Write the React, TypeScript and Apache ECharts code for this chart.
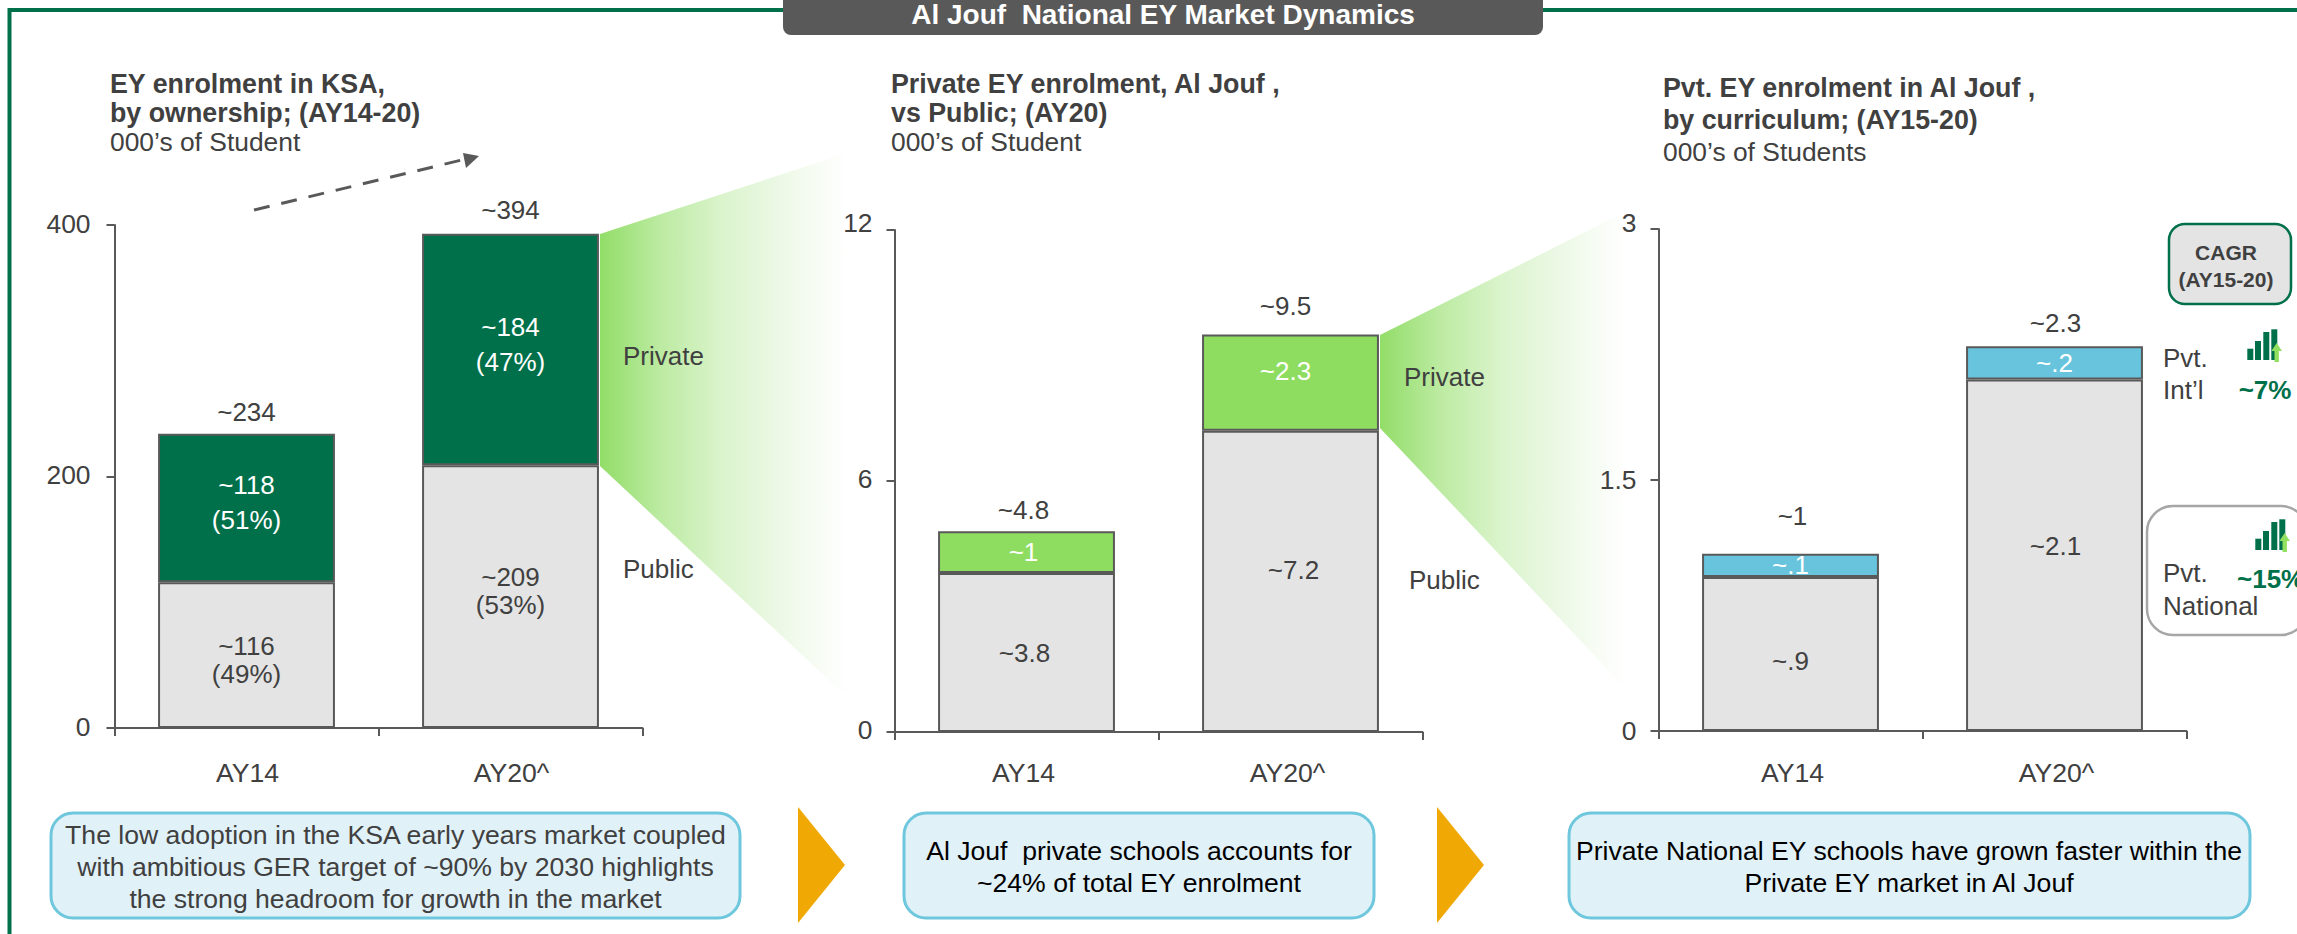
import React, { useEffect, useRef } from "react";
import * as echarts from "echarts";

const FONT = "Liberation Sans";
const TXT = "#404040";
const EDGE = "#595959";
const GREEN = "#00704a";
const LIME = "#8fdd60";
const BLUE = "#68c4dc";
const GREY = "#e4e4e4";

const categories = ["AY14", "AY20^"];

const ksaPublic = [116, 209];
const ksaPrivate = [118, 184];
const ksaTotal = [234, 394];
const ksaPublicLabels = ["~116\n(49%)", "~209\n(53%)"];
const ksaPrivateLabels = ["~118\n(51%)", "~184\n(47%)"];
const ksaTotalLabels = ["~234", "~394"];

const joufPublic = [3.8, 7.2];
const joufPrivate = [1, 2.3];
const joufTotal = [4.8, 9.5];
const joufPublicLabels = ["~3.8", "~7.2"];
const joufPrivateLabels = ["~1", "~2.3"];
const joufTotalLabels = ["~4.8", "~9.5"];

const currNational = [0.92, 2.1];
const currIntl = [0.14, 0.2];
const currTotal = [1.06, 2.3];
const currNationalLabels = ["~.9", "~2.1"];
const currIntlLabels = ["~.1", "~.2"];
const currTotalLabels = ["~1", "~2.3"];

const callout1 = "The low adoption in the KSA early years market coupled\nwith ambitious GER target of ~90% by 2030 highlights\nthe strong headroom for growth in the market";
const callout2 = "Al Jouf  private schools accounts for\n~24% of total EY enrolment";
const callout3 = "Private National EY schools have grown faster within the\nPrivate EY market in Al Jouf";

function panel(i: number, box: any, max: number, step: number, low: number[], high: number[], total: number[],
  lowL: string[], highL: string[], totalL: string[], highFill: string, o: any) {
  const axisLine = { lineStyle: { color: EDGE, width: 2 } };
  const tick = { length: 8, lineStyle: { color: EDGE, width: 2 } };
  const barBase = {
    type: "bar", stack: "s" + i, xAxisIndex: i, yAxisIndex: i, barWidth: "67%",
  };
  const lbl = (t: string, color: string, off: number[], lh: number) => ({
    show: true, position: "inside", formatter: t, color, fontSize: 26, fontFamily: FONT, lineHeight: lh, offset: off,
  });
  const tickStyle = { color: TXT, fontSize: 26.4, fontFamily: FONT };
  return {
    grid: { ...box, containLabel: false },
    xAxis: {
      type: "category", gridIndex: i, data: categories, axisLine, axisTick: { ...tick, show: true, alignWithLabel: false },
      axisLabel: { color: TXT, fontSize: 26.6, fontFamily: FONT, margin: o.xMargin, padding: o.xPad },
    },
    yAxis: {
      type: "value", gridIndex: i, min: 0, max, interval: step, axisLine: { show: true, ...axisLine },
      axisTick: { show: true, ...tick }, splitLine: { show: false },
      axisLabel: {
        ...tickStyle, margin: o.yMargin,
        formatter: (v: number) => (v === max ? `{top|${v}}` : `{rest|${v}}`),
        rich: {
          top: { ...tickStyle, padding: [0, 0, o.topPad, 0] },
          rest: { ...tickStyle, padding: [0, 0, o.restPad, 0] },
        },
      },
    },
    series: [
      {
        ...barBase, name: "Public",
        itemStyle: { color: GREY, borderColor: EDGE, borderWidth: 2 },
        data: low.map((v, k) => ({ value: v, label: lbl(lowL[k], TXT, o.lowOff[k], o.lowLh) })),
      },
      {
        ...barBase, name: "Private",
        itemStyle: { color: highFill, borderColor: EDGE, borderWidth: 2 },
        data: high.map((v, k) => ({ value: v, label: lbl(highL[k], "#ffffff", o.highOff[k], o.highLh) })),
      },
      {
        type: "scatter", name: "Total", xAxisIndex: i, yAxisIndex: i, symbolSize: 1, itemStyle: { color: "rgba(0,0,0,0)", opacity: 1 }, z: 5,
        data: total.map((v, k) => ({
          value: v,
          label: { show: true, position: "top", distance: 9, formatter: totalL[k], color: TXT, fontSize: 26, fontFamily: FONT, offset: o.totalOff[k] },
        })),
      },
    ],
  };
}

const T = (text: string, x: number, y: number, extra: any = {}) => ({
  type: "text", x, y,
  style: { text, fontFamily: FONT, fontSize: 26, fill: TXT, verticalAlign: "middle", align: "left", ...extra },
});

const box = (x: number, y: number, w: number, h: number, r: number, fill: string, stroke: string, lw: number) => ({
  type: "rect", shape: { x, y, width: w, height: h, r }, style: { fill, stroke, lineWidth: lw },
});

const wedgeFill = () => new echarts.graphic.LinearGradient(0, 0, 1, 0, [
  { offset: 0, color: "#92dd68" },
  { offset: 0.25, color: "#bdeba3" },
  { offset: 0.5, color: "#dbf4cd" },
  { offset: 0.75, color: "#eef9e8" },
  { offset: 1, color: "#ffffff" },
]);

const wedge = (pts: number[][]) => ({ type: "polygon", shape: { points: pts }, style: { fill: wedgeFill() } });

const icon = (dx: number, dy: number) => {
  const bars = [[2247.3, 348.7], [2255, 341], [2263.3, 332], [2271.3, 329.3]];
  return [
    ...bars.map(([x, y]) => ({
      type: "rect", shape: { x: x + dx, y: y + dy, width: 6, height: 360 - y }, style: { fill: GREEN },
    })),
    {
      type: "polygon",
      shape: {
        points: [[2276.7, 343], [2282, 351], [2278.9, 351], [2278.9, 362], [2274.5, 362], [2274.5, 351], [2271.4, 351]]
          .map(([x, y]) => [x + dx, y + dy]),
      },
      style: { fill: "#92e060" },
    },
  ];
};

const chevron = (x0: number, x1: number) => ({
  type: "polygon", shape: { points: [[x0, 807], [x1, 865], [x0, 923]] }, style: { fill: "#f0a904" },
});

function buildOption() {
  const p = [
    panel(0, { left: 114.5, top: 225, width: 528, height: 503 }, 400, 200, ksaPublic, ksaPrivate, ksaTotal,
      ksaPublicLabels, ksaPrivateLabels, ksaTotalLabels, GREEN,
      { lowOff: [[0, 5], [0, -6]], lowLh: 28, highOff: [[0, -5], [0, -5]], highLh: 35, totalOff: [[0, 1], [0, 0]],
        xMargin: 31, xPad: [0, 0, 0, 2], yMargin: 24, topPad: 3, restPad: 3 }),
    panel(1, { left: 894.5, top: 230, width: 528, height: 502 }, 12, 6, joufPublic, joufPrivate, joufTotal,
      joufPublicLabels, joufPrivateLabels, joufTotalLabels, LIME,
      { lowOff: [[-2, 0], [3, -11]], lowLh: 30, highOff: [[-3, 0], [-5, -12]], highLh: 30, totalOff: [[-3, 1], [-5, -6]],
        xMargin: 27, xPad: [0, 6, 0, 0], yMargin: 22, topPad: 14, restPad: 4 }),
    panel(2, { left: 1658.5, top: 229, width: 528, height: 502 }, 3, 1.5, currNational, currIntl, currTotal,
      currNationalLabels, currIntlLabels, currTotalLabels, BLUE,
      { lowOff: [[0, 7], [1, -9]], lowLh: 30, highOff: [[0, 0], [0, 0]], highLh: 30, totalOff: [[2, -15], [1, -1]],
        xMargin: 28, xPad: [0, 0, 0, 4], yMargin: 22, topPad: 12, restPad: 0 }),
  ];

  const titleBold = { fontWeight: "bold", fontSize: 26.8 };
  const sub = { fontSize: 26.4 };
  const call = { align: "center", lineHeight: 32, fontSize: 26.6 };

  const graphics: any[] = [
    { type: "polyline", shape: { points: [[9.5, 934], [9.5, 10], [2297, 10]] }, style: { fill: "none", stroke: GREEN, lineWidth: 4 } },
    box(783, -12, 760, 47, 8, "#595959", "none", 0),
    T("Al Jouf  National EY Market Dynamics", 1163, 14, { align: "center", fill: "#ffffff", fontWeight: "bold", fontSize: 28 }),

    wedge([[600, 234], [847, 153], [847, 697], [600, 466]]),
    wedge([[1380, 335], [1627, 211], [1627, 690], [1380, 428]]),

    T("EY enrolment in KSA,", 110, 84, titleBold),
    T("by ownership; (AY14-20)", 110, 113, titleBold),
    T("000\u2019s of Student", 110, 142, sub),
    T("Private EY enrolment, Al Jouf ,", 891, 84, titleBold),
    T("vs Public; (AY20)", 891, 113, titleBold),
    T("000\u2019s of Student", 891, 142, sub),
    T("Pvt. EY enrolment in Al Jouf ,", 1663, 88, titleBold),
    T("by curriculum; (AY15-20)", 1663, 120, titleBold),
    T("000\u2019s of Students", 1663, 152, sub),

    { type: "line", shape: { x1: 254, y1: 210, x2: 466, y2: 159 }, style: { stroke: EDGE, lineWidth: 3, lineDash: [16, 12] } },
    { type: "polygon", shape: { points: [[463, 153], [479, 156], [466, 168]] }, style: { fill: EDGE } },

    T("Private", 623, 356),
    T("Public", 623, 569),
    T("Private", 1404, 377),
    T("Public", 1409, 580),

    box(2169, 224, 122, 80, 16, GREY, GREEN, 2.5),
    T("CAGR", 2226, 252, { align: "center", fontWeight: "bold", fontSize: 21 }),
    T("(AY15-20)", 2226, 279, { align: "center", fontWeight: "bold", fontSize: 21 }),

    T("Pvt.", 2163, 358),
    T("Int\u2019l", 2163, 390),
    ...icon(0, 0),
    T("~7%", 2265, 390, { align: "center", fontWeight: "bold", fill: GREEN }),

    box(2147, 506, 160, 129, 26, "#ffffff", "#a6a6a6", 2.5),
    T("Pvt.", 2163, 573),
    T("National", 2163, 606),
    ...icon(8, 190),
    T("~15%", 2237, 579, { fontWeight: "bold", fill: GREEN }),

    box(51, 813, 689, 105, 22, "#e0f1f8", "#6fc7dd", 3),
    T(callout1, 395.5, 867, call),
    chevron(798, 845),
    box(904, 813, 470, 105, 22, "#e0f1f8", "#6fc7dd", 3),
    T(callout2, 1139, 867, { ...call, fill: "#000000" }),
    chevron(1437, 1484),
    box(1569, 813, 681, 105, 22, "#e0f1f8", "#6fc7dd", 3),
    T(callout3, 1909, 867, { ...call, fill: "#000000" }),
  ];

  return {
    animation: false,
    backgroundColor: "#ffffff",
    textStyle: { fontFamily: FONT },
    grid: p.map((x) => x.grid),
    xAxis: p.map((x) => x.xAxis),
    yAxis: p.map((x) => x.yAxis),
    series: p.flatMap((x) => x.series),
    graphic: { elements: graphics },
  };
}

export default function App() {
  const ref = useRef<HTMLDivElement>(null);
  useEffect(() => {
    const chart = echarts.init(ref.current!, undefined, { renderer: "svg" });
    chart.setOption(buildOption() as any);
    return () => chart.dispose();
  }, []);
  return <div ref={ref} style={{ position: "absolute", left: 0, top: 0, width: 2297, height: 934, overflow: "hidden" }} />;
}
